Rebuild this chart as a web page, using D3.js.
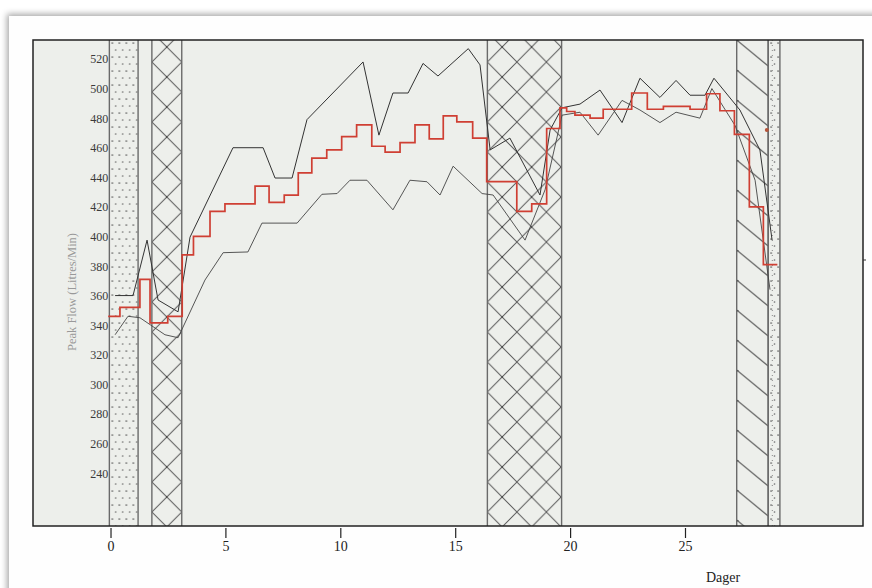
<!DOCTYPE html>
<html><head><meta charset="utf-8">
<script src="https://cdnjs.cloudflare.com/ajax/libs/d3/7.8.5/d3.min.js"></script>
<style>
html,body{margin:0;padding:0;background:#fff;}
svg{display:block;}
</style></head>
<body>
<svg id="c" width="872" height="588"></svg>
<script>
// ---------- DATA (days, Peak Flow L/min) ----------
const xTicks = [0, 5, 10, 15, 20, 25];
const yTicks = [240, 260, 280, 300, 320, 340, 360, 380, 400, 420, 440, 460, 480, 500, 520];

const upperDays = [0.20,0.98,1.59,2.07,2.94,3.46,5.33,6.64,7.16,7.90,8.55,10.99,11.68,12.29,12.95,13.60,14.25,15.57,16.08,16.52,17.38,18.69,19.13,19.65,20.43,21.30,22.26,23.04,23.91,24.61,25.22,25.87,26.26,27.39,28.26,28.79];
const upperVals = [360,360,397.5,357,349,399.5,460,460,439.5,439.5,479,518,468.5,497,497,517,508.5,527,516,458.5,466.5,428,472,487,489.5,499,477,507,494,505.5,495.5,495.5,507,485.5,458.5,397.5];

const lowerDays = [0.20,0.76,1.28,2.37,2.94,4.11,4.90,5.98,6.59,8.12,9.20,9.86,10.42,11.16,12.29,13.03,13.77,14.34,14.91,16.17,16.65,18.04,18.91,19.65,20.43,21.22,22.26,23.04,23.91,24.61,25.65,26.17,27.18,28.05,28.70];
const lowerVals = [333.5,346,345,333.5,331.5,370.5,389,389.5,409,409,428.5,429,438,438,418,438,437,428,447.5,429,428,397.5,431.5,482,484,468.5,492,485.5,477,484,480,500,475,438,364];

const meanDays = [-0.1,0.41,1.28,1.72,2.49,3.12,3.61,4.33,4.98,6.29,6.90,7.56,8.17,8.76,9.41,10.06,10.71,11.37,11.95,12.60,13.25,13.87,14.48,15.07,15.76,16.37,17.68,18.33,18.98,19.56,19.85,20.21,20.87,21.44,22.68,23.36,24.06,25.22,25.94,26.52,27.15,27.80,28.41,29.02];
const meanVals = [346,352,371,341.5,346,387.5,400,417,422,434,423,428,443,453,458.5,467.5,475.5,461,457,463.5,475.5,466,481.5,477.5,466.5,437,417,422,473,487,484.5,482,480,486,497,486,488,486,496.5,485,469,420,381,381];

const dotDay = [28.56];
const dotVal = [472];

// shaded periods [start, end] in days and their fill kind
const bandStart = [-0.05, 1.8, 16.4, 27.25, 28.62];
const bandEnd   = [1.2, 3.1, 19.63, 28.62, 29.13];
const bandKind  = ["dots", "cross", "cross", "hatch", "dots"];

// ---------- DRAW ----------
const svg = d3.select("#c");
const L = 33, R = 863, T = 40, B = 526;

const x = d3.scaleLinear().domain([-3.373, 32.746]).range([L, R]);
const y = d3.scaleLinear().domain([204.16, 532.85]).range([B, T]);

const defs = svg.append("defs");
const f = defs.append("filter").attr("id","sh").attr("x","-5%").attr("y","-5%").attr("width","120%").attr("height","120%");
f.append("feDropShadow").attr("dx",-2).attr("dy",-2).attr("stdDeviation",3).attr("flood-color","#000").attr("flood-opacity",0.35);

defs.append("clipPath").attr("id","clip").append("rect").attr("x",L).attr("y",T).attr("width",R-L).attr("height",B-T);

const bands = bandStart.map((s,i)=>({s, e: bandEnd[i], k: bandKind[i], id: "pat"+i}));

bands.forEach(b=>{
  const x0 = x(b.s), w = x(b.e)-x(b.s);
  if (b.k === "cross") {
    const p = defs.append("pattern").attr("id",b.id).attr("patternUnits","userSpaceOnUse")
      .attr("width",w <= 40 ? w : 29.5).attr("height",30).attr("x",x0).attr("y",T-8);
    const tw = w <= 40 ? w : 29.5;
    p.append("path").attr("d",`M0,0L${tw},30M${tw},0L0,30`).attr("stroke","#5a5a5a").attr("stroke-width",1).attr("fill","none");
    p.append("circle").attr("cx",tw/2).attr("cy",15).attr("r",1).attr("fill","#444");
  } else if (b.k === "hatch") {
    const p = defs.append("pattern").attr("id",b.id).attr("patternUnits","userSpaceOnUse")
      .attr("width",w).attr("height",30).attr("x",x0).attr("y",T);
    p.append("path").attr("d",`M0,0L${w},26M0,-30L${w},-4M0,30L${w},56`).attr("stroke","#555").attr("stroke-width",1).attr("fill","none");
    p.append("circle").attr("cx",0.8).attr("cy",0.6).attr("r",1).attr("fill","#444");
  } else {
    const p = defs.append("pattern").attr("id",b.id).attr("patternUnits","userSpaceOnUse")
      .attr("width",7).attr("height",14).attr("x",x0).attr("y",T);
    p.append("circle").attr("cx",3).attr("cy",3).attr("r",0.85).attr("fill","#555");
    p.append("circle").attr("cx",6.5).attr("cy",10).attr("r",0.85).attr("fill","#666");
  }
});

// card
svg.append("rect").attr("x",9).attr("y",16).attr("width",900).attr("height",600).attr("fill","#fefefe").attr("filter","url(#sh)");

// plot background
svg.append("rect").attr("x",L).attr("y",T).attr("width",R-L).attr("height",B-T).attr("fill","#edefeb");

const g = svg.append("g").attr("clip-path","url(#clip)");

g.selectAll("rect.band").data(bands).join("rect").attr("class","band")
  .attr("x",d=>x(d.s)).attr("y",T).attr("width",d=>x(d.e)-x(d.s)).attr("height",B-T)
  .attr("fill",d=>`url(#${d.id})`);
const edges = [];
bands.forEach(b=>{edges.push(b.s); edges.push(b.e);});
g.selectAll("line.edge").data(edges).join("line").attr("class","edge")
  .attr("x1",d=>x(d)).attr("x2",d=>x(d)).attr("y1",T).attr("y2",B)
  .attr("stroke","#6a6a6a").attr("stroke-width",1.4);
g.append("line").attr("x1",x(28.8)).attr("x2",x(28.8)).attr("y1",T).attr("y2",B)
  .attr("stroke","#888").attr("stroke-width",1).attr("stroke-dasharray","1,4");

// lines
const lineGen = d3.line().x(d=>x(d[0])).y(d=>y(d[1]));
g.append("path").datum(upperDays.map((d,i)=>[d,upperVals[i]])).attr("d",lineGen)
  .attr("fill","none").attr("stroke","#333").attr("stroke-width",1);
g.append("path").datum(lowerDays.map((d,i)=>[d,lowerVals[i]])).attr("d",lineGen)
  .attr("fill","none").attr("stroke","#444").attr("stroke-width",0.9);
const stepGen = d3.line().x(d=>x(d[0])).y(d=>y(d[1])).curve(d3.curveStepAfter);
g.append("path").datum(meanDays.map((d,i)=>[d,meanVals[i]])).attr("d",stepGen)
  .attr("fill","none").attr("stroke","#cf3f33").attr("stroke-width",1.7);
g.selectAll("circle.dot").data(dotDay).join("circle").attr("class","dot")
  .attr("cx",d=>x(d)).attr("cy",(d,i)=>y(dotVal[i])).attr("r",2).attr("fill","#b5553a");

// frame
svg.append("rect").attr("x",L).attr("y",T).attr("width",R-L).attr("height",B-T)
  .attr("fill","none").attr("stroke","#222").attr("stroke-width",1.5);
svg.append("line").attr("x1",R).attr("x2",R+3).attr("y1",260).attr("y2",260).attr("stroke","#333");

// axes
const yAx = svg.append("g").attr("transform",`translate(${x(-0.05)},0)`)
  .call(d3.axisLeft(y).tickValues(yTicks).tickSize(0).tickPadding(1));
yAx.select(".domain").remove();
yAx.selectAll("text").attr("font-family","Liberation Serif").attr("font-size",12.5).attr("fill","#3a3a3a")
  .attr("textLength",18).attr("lengthAdjust","spacingAndGlyphs");

const xAx = svg.append("g").attr("transform",`translate(0,${B+2})`)
  .call(d3.axisBottom(x).tickValues(xTicks).tickSize(10).tickPadding(3));
xAx.select(".domain").remove();
xAx.selectAll("line").attr("stroke","#222").attr("stroke-width",1.2);
xAx.selectAll("text").attr("font-family","Liberation Serif").attr("font-size",14).attr("fill","#222");

svg.append("text").attr("transform","translate(76,292) rotate(-90)").attr("text-anchor","middle")
  .attr("font-family","Liberation Serif").attr("font-size",12.5).attr("fill","#999")
  .text("Peak Flow (Litres/Min)");
svg.append("text").attr("x",723).attr("y",582).attr("text-anchor","middle")
  .attr("font-family","Liberation Serif").attr("font-size",14).attr("fill","#222").text("Dager");
</script>
</body></html>
